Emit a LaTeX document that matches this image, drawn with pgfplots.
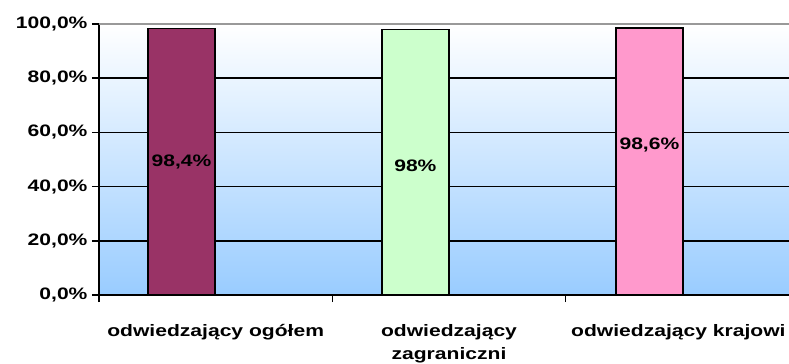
\documentclass[border=0pt]{standalone}
\usepackage{pgfplots}
\pgfplotsset{compat=1.18}
\usepackage{fontspec}
\setmainfont[FakeStretch=1.27]{Liberation Sans}

\definecolor{plum}{HTML}{993366}
\definecolor{mint}{HTML}{CCFFCC}
\definecolor{rose}{HTML}{FF99CC}
\definecolor{skyb}{HTML}{99CCFF}

\begin{document}
\begin{tikzpicture}[x=1bp,y=1bp]
\begin{axis}[
    at={(99bp,69bp)}, anchor=south west,
    scale only axis,
    width=700bp, height=271bp,
    xmin=0, xmax=3, ymin=0, ymax=100,
    axis lines*=left,
    axis line style={line width=1.5bp, -},
    axis background/.style={shade, top color=white, bottom color=skyb},
    ytick={0,20,40,60,80},
    yticklabels={{0,0\%},{20,0\%},{40,0\%},{60,0\%},{80,0\%}},
    extra y ticks={100},
    extra y tick labels={100{,}0\%},
    extra y tick style={grid style={gray!80, line width=1.5bp}},
    ymajorgrids,
    grid style={black, line width=1.5bp},
    xtick={0.5,1.5,2.5},
    xticklabels={odwiedzający ogółem, odwiedzający\\zagraniczni, odwiedzający krajowi\hspace*{8bp}},
    minor xtick={0,1,2,3},
    major x tick style={draw=none},
    minor x tick style={black, line width=1.5bp},
    ytick style={black, line width=1.5bp},
    tick align=outside,
    major tick length=7bp, minor tick length=7bp,
    every tick label/.append style={font=\fontsize{16.6bp}{23bp}\selectfont\bfseries},
    xticklabel style={align=center, text depth=0pt, yshift=-19bp},
    yticklabel style={xshift=-1bp},
    clip=false,
  ]
  \addplot[ybar, bar shift=0pt, bar width=0.287, fill=plum, draw=black, line width=1.5bp] coordinates {(0.3536,98.4)};
  \addplot[ybar, bar shift=0pt, bar width=0.287, fill=mint, draw=black, line width=1.5bp] coordinates {(1.356,98)};
  \addplot[ybar, bar shift=0pt, bar width=0.287, fill=rose, draw=black, line width=1.5bp] coordinates {(2.359,98.6)};
  \addplot[draw=none, mark=none, nodes near coords, point meta=explicit symbolic,
    every node near coord/.style={anchor=center, font=\fontsize{16.6bp}{18bp}\selectfont\bfseries, text=black}]
    table[meta=lab] {
    x y lab
    0.3536 49.1 98,4\%
    1.356 47.6 98\%
    2.359 55.4 98,6\%
  };
\end{axis}
\pgfresetboundingbox
\path[use as bounding box] (0,0) rectangle (789bp,364bp);
\end{tikzpicture}
\end{document}
